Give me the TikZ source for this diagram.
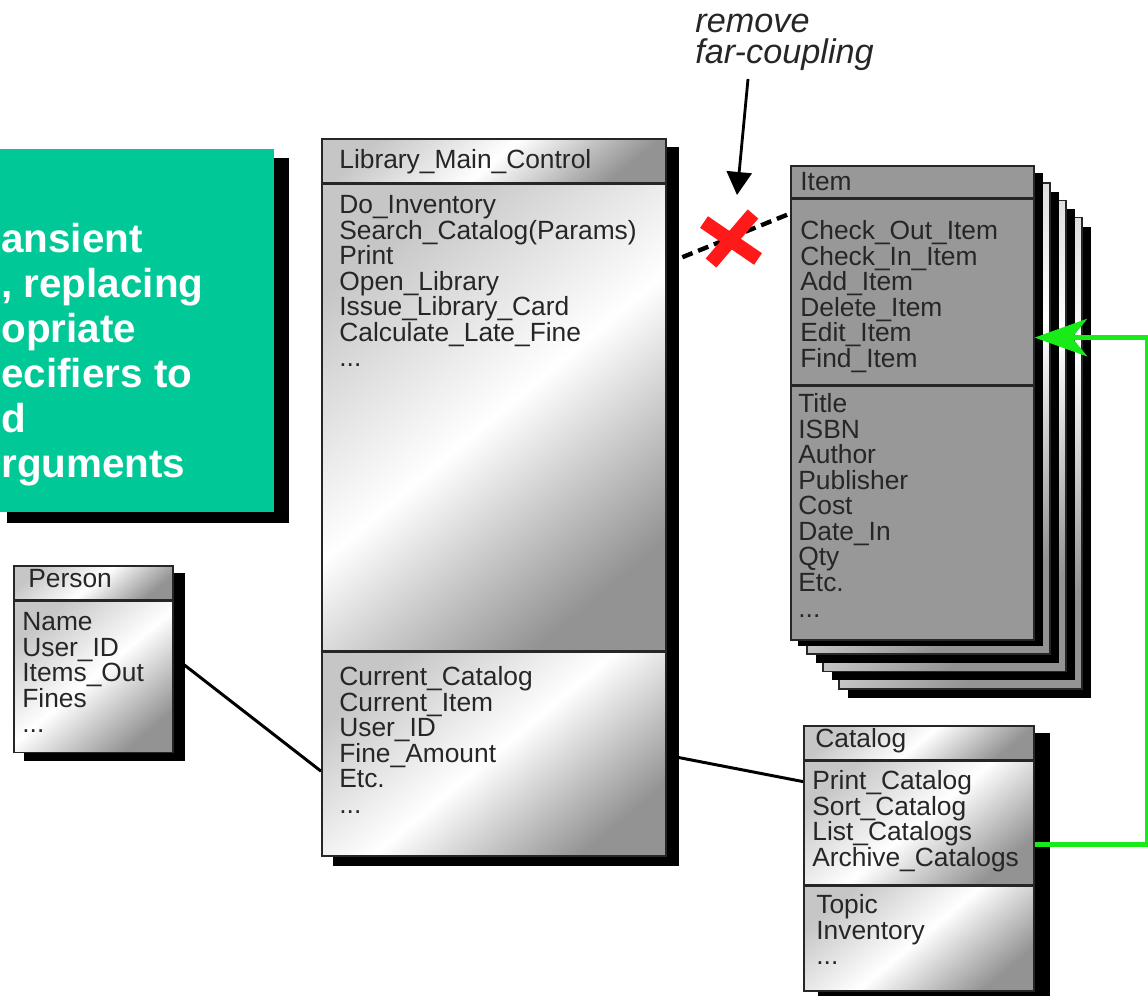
\documentclass[tikz,border=0pt]{standalone}
\usepackage{fontspec}
\setmainfont{Liberation Sans}
\usepackage{tikz}
\usetikzlibrary{positioning,shadows,arrows.meta,backgrounds}
\definecolor{notegreen}{RGB}{0,200,150}
\definecolor{linkgreen}{RGB}{25,235,25}
\definecolor{crossred}{RGB}{255,25,25}
\definecolor{itemgray}{RGB}{152,152,152}
\newcommand{\pxu}{0.02cm}

\begin{document}
\begin{tikzpicture}[
  x=0.02cm, y=-0.02cm,
  metal/.style={top color=gray!45, bottom color=gray!85, middle color=white, shading angle=40},
  pageshadow/.style={drop shadow={shadow xshift=0.18cm, shadow yshift=-0.18cm, fill=black, opacity=1}},
  comp/.style={draw=black!85, line width=0.9pt, anchor=north west, inner sep=0pt},
  cls/.style={font=\fontsize{15}{14.56}\selectfont, text=black!85, align=left, inner sep=0pt, anchor=north west},
  clsname/.style={font=\fontsize{15}{14.56}\selectfont, text=black!85, inner sep=0pt, anchor=base west},
  assoc/.style={line width=1.7pt, black},
  farlink/.style={line width=2.5pt, black, dash pattern=on 0.22cm off 0.12cm},
  pointer/.style={line width=1.6pt, black, -{Triangle[length=0.46cm, width=0.5cm]}},
  greenlink/.style={line width=2.6pt, linkgreen, -{Stealth[length=1.05cm, width=0.75cm, inset=0.3cm]}},
  cross/.style={line width=0.28cm, crossred},
]
  \useasboundingbox (0,0) rectangle (1148,995);

  % note box, cut at the left edge
  \node[comp, draw=none, fill=notegreen, minimum width=280*\pxu, minimum height=363*\pxu] (note) at (-7,148) {};
  \node[inner sep=0pt, anchor=north west, align=left, text=white, font=\bfseries\fontsize{23}{25.6}\selectfont] (note-txt) at (1,223)
    {ansient\\, replacing\\opriate\\ecifiers to\\d\\rguments};

  % Library_Main_Control
  \node[comp, metal, minimum width=344*\pxu, minimum height=44*\pxu] (lib-head) at (321,138) {};
  \node[comp, metal, minimum width=344*\pxu, minimum height=466*\pxu] (lib-ops) at (lib-head.south west) {};
  \node[comp, metal, minimum width=344*\pxu, minimum height=204*\pxu] (lib-attr) at (lib-ops.south west) {};
  \node[clsname] (lib-name) at (339,168) {Library\_Main\_Control};
  \node[cls] (lib-optxt) at (339,195)
    {Do\_Inventory\\Search\_Catalog(Params)\\Print\\Open\_Library\\Issue\_Library\_Card\\Calculate\_Late\_Fine\\...};
  \node[cls] (lib-attrtxt) at (339,666)
    {Current\_Catalog\\Current\_Item\\User\_ID\\Fine\_Amount\\Etc.\\...};

  % Person
  \node[comp, metal, minimum width=159*\pxu, minimum height=34*\pxu] (person-head) at (13,565) {};
  \node[comp, metal, minimum width=159*\pxu, minimum height=151*\pxu] (person-attr) at (person-head.south west) {};
  \node[clsname] (person-name) at (28,587) {Person};
  \node[cls] (person-attrtxt) at (22,612) {Name\\User\_ID\\Items\_Out\\Fines\\...};

  % Item, a stack of objects
  \foreach \k in {3,2,1}
    \node[comp, metal, pageshadow, minimum width=243*\pxu, minimum height=471*\pxu] (item-page\k) at (790+16*\k, 165+17.3*\k) {};
  \fill[black] ([shift={(-8,-9.3)}]item-page1.north west) rectangle ([shift={(-8,-9.3)}]item-page1.south east);
  \node[comp, fill=itemgray, minimum width=243*\pxu, minimum height=32*\pxu] (item-head) at (790,165) {};
  \node[comp, fill=itemgray, minimum width=243*\pxu, minimum height=185*\pxu] (item-ops) at (item-head.south west) {};
  \node[comp, fill=itemgray, minimum width=243*\pxu, minimum height=254*\pxu] (item-attr) at (item-ops.south west) {};
  \node[clsname] (item-name) at (800,190) {Item};
  \node[cls] (item-optxt) at (800,220)
    {Check\_Out\_Item\\Check\_In\_Item\\Add\_Item\\Delete\_Item\\Edit\_Item\\Find\_Item};
  \node[cls] (item-attrtxt) at (798,393)
    {Title\\ISBN\\Author\\Publisher\\Cost\\Date\_In\\Qty\\Etc.\\...};

  % Catalog
  \node[comp, metal, minimum width=230*\pxu, minimum height=34*\pxu] (cat-head) at (803,725) {};
  \node[comp, metal, minimum width=230*\pxu, minimum height=123*\pxu] (cat-ops) at (cat-head.south west) {};
  \node[comp, metal, minimum width=230*\pxu, minimum height=105*\pxu] (cat-attr) at (cat-ops.south west) {};
  \node[clsname] (cat-name) at (815,747) {Catalog};
  \node[cls] (cat-optxt) at (812,770)
    {Print\_Catalog\\Sort\_Catalog\\List\_Catalogs\\Archive\_Catalogs};
  \node[cls] (cat-attrtxt) at (816,894) {Topic\\Inventory\\...};

  % links, then the shadows over them
  \begin{scope}[on background layer]
    \draw[assoc] ([yshift=-56*\pxu]person-attr.north east) -- ([yshift=-120*\pxu]lib-attr.north west);
    \draw[assoc] ([yshift=-104*\pxu]lib-attr.north east) -- ([yshift=-21*\pxu]cat-ops.north west);
    \draw[farlink] ([yshift=-80*\pxu]lib-ops.north east) -- ([yshift=-15*\pxu]item-ops.north west);
    \fill[black] ([shift={(14,10)}]note.north west) rectangle ([shift={(14,10)}]note.south east);
    \fill[black] ([shift={(12,9)}]lib-head.north west) rectangle ([shift={(12,9)}]lib-attr.south east);
    \fill[black] ([shift={(11,8)}]person-head.north west) rectangle ([shift={(11,8)}]person-attr.south east);
    \fill[black] ([shift={(15,8)}]cat-head.north west) rectangle ([shift={(15,8)}]cat-attr.south east);
  \end{scope}
  \draw[greenlink] ([yshift=-84*\pxu]cat-ops.north east) -- ++(113,0) |- ([yshift=-139*\pxu]item-ops.north east);

  % remark and cross
  \node[inner sep=0pt, anchor=north west, align=left, text=black!85, font=\itshape\fontsize{19.5}{17.6}\selectfont] (remark) at (695,14)
    {remove\\far-coupling};
  \coordinate (cut) at (730,238);
  \coordinate (tail) at (748,79);
  \draw[pointer] (tail) -- ([shift={(7,-43)}]cut);
  \draw[cross] ([shift={(-26,-16)}]cut) -- ([shift={(28,21)}]cut);
  \draw[cross] ([shift={(23,-24)}]cut) -- ([shift={(-19,25)}]cut);
\end{tikzpicture}
\end{document}
